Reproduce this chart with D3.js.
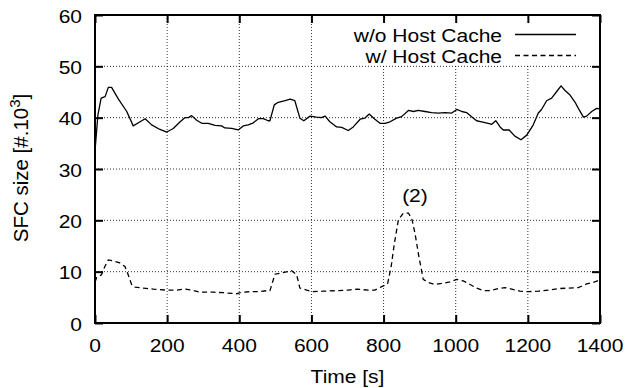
<!DOCTYPE html>
<html>
<head>
<meta charset="utf-8">
<script src="https://cdn.jsdelivr.net/npm/d3@7"></script>
<style>
  html, body { margin: 0; padding: 0; background: #fff; }
  svg { display: block; }
  text { font-family: "Liberation Sans", Arial, Helvetica, sans-serif; fill: #000; }
</style>
</head>
<body>
<svg id="chart" width="629" height="388"></svg>
<script>
// ---- Data ----
const xTicks = [0, 200, 400, 600, 800, 1000, 1200, 1400];
const yTicks = [0, 10, 20, 30, 40, 50, 60];
const seriesNames = ["w/o Host Cache", "w/ Host Cache"];

const noCacheT = [0, 8, 17, 28, 37, 46, 65, 88, 106, 125, 139, 157, 180, 199, 217, 236, 249, 259, 268, 282, 296, 314, 333, 351, 360, 379, 397, 411, 425, 439, 453, 467, 480, 485, 497, 508, 527, 541, 554, 568, 579, 596, 614, 628, 638, 651, 670, 684, 702, 716, 735, 748, 760, 776, 790, 804, 818, 836, 850, 869, 883, 896, 915, 933, 952, 970, 989, 1003, 1017, 1030, 1044, 1058, 1072, 1090, 1100, 1111, 1123, 1132, 1148, 1164, 1181, 1197, 1215, 1229, 1238, 1252, 1266, 1280, 1292, 1303, 1317, 1331, 1340, 1354, 1363, 1377, 1391, 1400];
const noCacheV = [33.5, 40.5, 43.8, 44.1, 45.9, 45.9, 43.6, 41.2, 38.4, 39.2, 39.8, 38.6, 37.7, 37.2, 37.9, 39.2, 40.0, 40.0, 40.4, 39.5, 38.9, 38.9, 38.5, 38.4, 38.0, 37.9, 37.6, 38.4, 38.6, 39.0, 39.8, 39.8, 39.4, 39.4, 42.5, 43.0, 43.3, 43.6, 43.3, 39.9, 39.4, 40.3, 40.1, 40.0, 40.3, 39.2, 38.2, 38.1, 37.5, 38.2, 39.7, 39.9, 40.7, 39.7, 38.9, 38.9, 39.2, 39.9, 40.2, 41.4, 41.2, 41.4, 41.2, 41.0, 40.9, 41.0, 40.9, 41.6, 41.2, 41.0, 40.2, 39.4, 39.2, 38.9, 38.7, 39.4, 38.2, 37.6, 37.6, 36.4, 35.7, 36.6, 38.6, 40.9, 41.6, 43.3, 43.8, 45.1, 46.2, 45.3, 44.4, 43.0, 41.8, 40.1, 40.3, 41.2, 41.8, 41.7];

const cacheT = [0, 5, 18, 28, 37, 51, 69, 83, 92, 102, 111, 134, 162, 199, 226, 249, 268, 291, 328, 356, 393, 407, 430, 457, 476, 485, 499, 513, 527, 545, 559, 568, 587, 605, 633, 670, 702, 725, 758, 776, 795, 811, 821, 830, 841, 855, 869, 878, 887, 898, 910, 924, 942, 961, 984, 1003, 1021, 1040, 1058, 1076, 1095, 1118, 1137, 1155, 1178, 1201, 1229, 1257, 1284, 1312, 1340, 1363, 1381, 1393, 1400];
const cacheV = [8.0, 8.9, 9.4, 11.1, 12.3, 12.1, 11.7, 11.0, 9.4, 7.4, 7.0, 6.8, 6.6, 6.4, 6.4, 6.6, 6.4, 6.0, 6.0, 5.9, 5.7, 6.0, 6.1, 6.1, 6.3, 6.3, 9.5, 9.7, 9.9, 10.2, 9.4, 6.8, 6.4, 6.1, 6.2, 6.3, 6.4, 6.6, 6.4, 6.4, 7.1, 7.6, 11.0, 15.5, 20.1, 21.4, 21.4, 20.4, 17.5, 12.9, 8.5, 7.9, 7.5, 7.7, 8.0, 8.5, 8.2, 7.5, 6.8, 6.3, 6.3, 6.7, 6.9, 6.6, 6.2, 6.1, 6.2, 6.4, 6.7, 6.8, 6.9, 7.6, 7.9, 8.2, 8.4];

const annotationText = "(2)";
const annotationAt = [887, 23.5];

// ---- Layout ----
const svg = d3.select("#chart");
const mLeft = 95, mRight = 600, mTop = 15, mBottom = 323;
const x = d3.scaleLinear().domain([0, 1400]).range([mLeft, mRight]);
const y = d3.scaleLinear().domain([0, 60]).range([mBottom, mTop]);
const FS = 21, SY = 0.88;

// text helper: wide-looking (vertically condensed) labels, as in the reference
function label(px, py, str, anchor) {
  const g = svg.append("g").attr("transform", `translate(${px},${py})`);
  return g.append("text").attr("transform", `scale(1,${SY})`).attr("text-anchor", anchor || "middle")
    .style("font-size", FS + "px").text(str);
}

// grid
const grid = svg.append("g").attr("stroke", "#000").attr("stroke-width", 0.8).attr("stroke-dasharray", "1,2");
xTicks.slice(1, -1).forEach(t => {
  grid.append("line").attr("x1", x(t)).attr("x2", x(t)).attr("y1", mTop).attr("y2", mBottom);
});
yTicks.slice(1, -1).forEach(t => {
  grid.append("line").attr("x1", mLeft).attr("x2", mRight).attr("y1", y(t)).attr("y2", y(t));
});

// legend background (opaque key area)
svg.append("rect").attr("x", 345).attr("y", mTop + 1).attr("width", mRight - 345 - 1).attr("height", 49).attr("fill", "#fff");

// axes with inward ticks (labels drawn with the same scales below)
const tickLen = 8;
const axB = d3.axisBottom(x).tickValues(xTicks).tickSize(-tickLen).tickFormat("");
const axT = d3.axisTop(x).tickValues(xTicks).tickSize(-tickLen).tickFormat("");
const axL = d3.axisLeft(y).tickValues(yTicks).tickSize(-tickLen).tickFormat("");
const axR = d3.axisRight(y).tickValues(yTicks).tickSize(-tickLen).tickFormat("");

function styleAxis(g) {
  g.select(".domain").remove();
  g.selectAll(".tick line").attr("stroke", "#000").attr("stroke-width", 2);
}
svg.append("g").attr("transform", `translate(0,${mBottom})`).call(axB).call(styleAxis);
svg.append("g").attr("transform", `translate(0,${mTop})`).call(axT).call(styleAxis);
svg.append("g").attr("transform", `translate(${mLeft},0)`).call(axL).call(styleAxis);
svg.append("g").attr("transform", `translate(${mRight},0)`).call(axR).call(styleAxis);

xTicks.forEach(t => label(x(t), 352, String(t), "middle"));
yTicks.forEach(t => label(82, y(t) + 7.5, String(t), "end"));

// lines
const line = d3.line().x(d => x(d[0])).y(d => y(d[1]));
const s1 = noCacheT.map((t, i) => [t, noCacheV[i]]);
const s2 = cacheT.map((t, i) => [t, cacheV[i]]);
svg.append("path").datum(s1).attr("d", line).attr("fill", "none").attr("stroke", "#000").attr("stroke-width", 1.3).attr("stroke-linejoin", "round");
svg.append("path").datum(s2).attr("d", line).attr("fill", "none").attr("stroke", "#000").attr("stroke-width", 1.3).attr("stroke-dasharray", "5,3.5");

// frame
svg.append("rect").attr("x", mLeft).attr("y", mTop).attr("width", mRight - mLeft).attr("height", mBottom - mTop)
  .attr("fill", "none").attr("stroke", "#000").attr("stroke-width", 2);

// legend
const legRows = [{ name: seriesNames[0], dash: null, ty: 41.7, ly: 34.5 }, { name: seriesNames[1], dash: "5,3.5", ty: 63.3, ly: 55.5 }];
legRows.forEach(r => {
  label(502, r.ty, r.name, "end");
  svg.append("line").attr("x1", 515).attr("x2", 576).attr("y1", r.ly).attr("y2", r.ly)
    .attr("stroke", "#000").attr("stroke-width", 1.3).attr("stroke-dasharray", r.dash);
});

// annotation
label(x(annotationAt[0]), y(annotationAt[1]), annotationText, "middle");

// axis labels
label((mLeft + mRight) / 2, 383, "Time [s]", "middle");
const yl = svg.append("text").attr("transform", `translate(28,168) rotate(-90)`).attr("text-anchor", "middle")
  .style("font-size", "20.5px");
yl.append("tspan").text("SFC size [#.10");
yl.append("tspan").attr("dy", -8).style("font-size", "15px").text("3");
yl.append("tspan").attr("dy", 8).text("]");
</script>
</body>
</html>
